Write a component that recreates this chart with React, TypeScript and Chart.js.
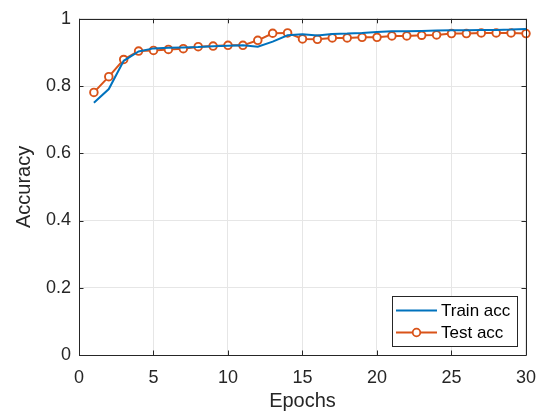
import React, { useEffect, useRef } from "react";
import { Chart, registerables } from "chart.js";

Chart.register(...registerables);

const epochs = [1,2,3,4,5,6,7,8,9,10,11,12,13,14,15,16,17,18,19,20,21,22,23,24,25,26,27,28,29,30];
const trainAcc = [0.750,0.791,0.875,0.903,0.912,0.914,0.915,0.916,0.918,0.920,0.921,0.917,0.932,0.951,0.954,0.950,0.955,0.956,0.958,0.961,0.963,0.963,0.964,0.965,0.966,0.966,0.967,0.967,0.968,0.970];
const testAcc = [0.781,0.828,0.879,0.904,0.906,0.909,0.911,0.917,0.919,0.921,0.921,0.936,0.957,0.958,0.940,0.939,0.943,0.943,0.945,0.945,0.949,0.949,0.951,0.952,0.956,0.956,0.958,0.958,0.958,0.956];
const xTicks = [0,5,10,15,20,25,30];
const yTicks = [0,0.2,0.4,0.6,0.8,1];
const xTitle = "Epochs";
const yTitle = "Accuracy";
const seriesNames = ["Train acc", "Test acc"];

const BLUE = "#0072BD";
const ORANGE = "#D95319";
const AXIS = "#262626";
const FONT = "'Liberation Sans', Arial, Helvetica, sans-serif";

const boxPlugin = {
  id: "matlabBox",
  afterDatasetsDraw(chart: any) {
    const { ctx, chartArea: a, scales } = chart;
    const tl = 4.5;
    ctx.save();
    ctx.strokeStyle = AXIS;
    ctx.lineWidth = 1;
    ctx.beginPath();
    ctx.rect(Math.round(a.left) + 0.5, Math.round(a.top) + 0.5, Math.round(a.right - a.left), Math.round(a.bottom - a.top));
    ctx.stroke();
    ctx.beginPath();
    for (const v of xTicks) {
      const x = Math.round(scales.x.getPixelForValue(v)) + 0.5;
      ctx.moveTo(x, a.bottom); ctx.lineTo(x, a.bottom - tl);
      ctx.moveTo(x, a.top); ctx.lineTo(x, a.top + tl);
    }
    for (const v of yTicks) {
      const y = Math.round(scales.y.getPixelForValue(v)) + 0.5;
      ctx.moveTo(a.left, y); ctx.lineTo(a.left + tl, y);
      ctx.moveTo(a.right, y); ctx.lineTo(a.right - tl, y);
    }
    ctx.stroke();
    ctx.restore();
  },
  afterDraw(chart: any) {
    const { ctx } = chart;
    const ds = chart.data.datasets;
    const bx = 392.5, by = 296.5, bw = 125, bh = 50;
    ctx.save();
    ctx.fillStyle = "#ffffff";
    ctx.fillRect(bx, by, bw, bh);
    ctx.strokeStyle = AXIS;
    ctx.lineWidth = 1;
    ctx.strokeRect(bx, by, bw, bh);
    const rows = [310.5, 332.5];
    ds.forEach((d: any, i: number) => {
      const y = rows[i];
      ctx.strokeStyle = d.borderColor;
      ctx.lineWidth = 2;
      ctx.beginPath();
      ctx.moveTo(396, y); ctx.lineTo(437, y);
      ctx.stroke();
      if (d.pointRadius > 0) {
        ctx.beginPath();
        ctx.arc(416.5, y, 3.8, 0, Math.PI * 2);
        ctx.fillStyle = "#ffffff";
        ctx.fill();
        ctx.lineWidth = 1.8;
        ctx.stroke();
      }
      ctx.fillStyle = "#000000";
      ctx.font = `17px ${FONT}`;
      ctx.textBaseline = "middle";
      ctx.textAlign = "left";
      ctx.fillText(d.label, 441, y + 0.5);
    });
    ctx.restore();
  },
};

export default function App() {
  const ref = useRef<HTMLCanvasElement | null>(null);
  useEffect(() => {
    if (!ref.current) return;
    const chart = new Chart(ref.current, {
      type: "line",
      data: {
        datasets: [
          {
            label: seriesNames[0],
            data: epochs.map((e, i) => ({ x: e, y: trainAcc[i] })),
            borderColor: BLUE,
            backgroundColor: BLUE,
            borderWidth: 2,
            pointRadius: 0,
            tension: 0,
            clip: false as any,
          },
          {
            label: seriesNames[1],
            data: epochs.map((e, i) => ({ x: e, y: testAcc[i] })),
            borderColor: ORANGE,
            backgroundColor: "#ffffff",
            pointBackgroundColor: "#ffffff",
            pointBorderColor: ORANGE,
            borderWidth: 2,
            pointRadius: 3.8,
            pointBorderWidth: 1.9,
            tension: 0,
            clip: false as any,
          },
        ],
      },
      options: {
        responsive: false,
        animation: false,
        devicePixelRatio: 1,
        layout: { padding: { left: 0, right: 19, top: 13, bottom: 0 } },
        plugins: { legend: { display: false }, tooltip: { enabled: false } },
        scales: {
          x: {
            type: "linear",
            min: 0,
            max: 30,
            afterFit: (s: any) => { s.height = 63; },
            afterBuildTicks: (s: any) => { s.ticks = xTicks.map((v) => ({ value: v })); },
            ticks: {
              padding: 12,
              color: AXIS,
              font: { family: FONT, size: 18 },
              maxRotation: 0,
              callback: (v: any) => String(v),
            },
            grid: { color: "#e6e6e6", lineWidth: 1, drawTicks: false },
            border: { display: false },
            title: { display: true, text: xTitle, color: AXIS, font: { family: FONT, size: 20 }, padding: { top: 0, bottom: 5 } },
          },
          y: {
            type: "linear",
            min: 0,
            max: 1,
            afterFit: (s: any) => { s.width = 79; },
            afterBuildTicks: (s: any) => { s.ticks = yTicks.map((v) => ({ value: v })); },
            ticks: {
              padding: 8,
              color: AXIS,
              font: { family: FONT, size: 18 },
              callback: (v: any) => String(Math.round(Number(v) * 10) / 10),
            },
            grid: { color: "#e6e6e6", lineWidth: 1, drawTicks: false },
            border: { display: false },
            title: { display: true, text: yTitle, color: AXIS, font: { family: FONT, size: 20 }, padding: { top: 12, bottom: 0 } },
          },
        },
      },
      plugins: [boxPlugin],
    });
    return () => chart.destroy();
  }, []);
  return (
    <div style={{ position: "absolute", left: 0, top: 0, width: 548, height: 418, background: "#fff" }}>
      <canvas ref={ref} width={548} height={418} style={{ width: 548, height: 418, display: "block" }} />
    </div>
  );
}
